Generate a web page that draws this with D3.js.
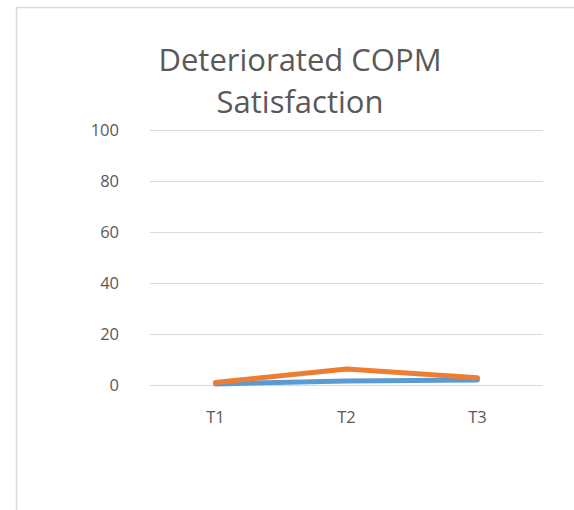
<!DOCTYPE html>
<html><head><meta charset="utf-8">
<script src="https://cdn.jsdelivr.net/npm/d3@7"></script>
<style>body{margin:0;background:#fff}</style>
</head><body>
<script>
const categories = ["T1","T2","T3"];
const seriesBlue = [0.4, 1.6, 2.0];
const seriesOrange = [1.0, 6.3, 2.8];
const yTicks = [0,20,40,60,80,100];
const titleLines = ["Deteriorated COPM","Satisfaction"];

const W=574,H=510;
const svg=d3.select("body").append("svg").attr("width",W).attr("height",H);
svg.append("rect").attr("width",W).attr("height",H).attr("fill","#fff");
svg.append("rect").attr("x",16.5).attr("y",7.5).attr("width",W).attr("height",H)
  .attr("fill","#fff").attr("stroke","#d9d9d9").attr("stroke-width",1.5);

const x=d3.scaleBand().domain(categories).range([150,543]);
const y=d3.scaleLinear().domain([0,100]).range([385,130]);

svg.append("g").selectAll("line").data(yTicks).join("line")
  .attr("x1",150).attr("x2",543).attr("y1",d=>y(d)+0.5).attr("y2",d=>y(d)+0.5)
  .attr("stroke","#d9d9d9").attr("stroke-width",1);

const font="'Open Sans', 'Noto Sans', sans-serif";
const yAxis=d3.axisLeft(y).tickValues(yTicks).tickSize(0).tickPadding(0);
const gy=svg.append("g").attr("transform","translate(119,0)").call(yAxis);
gy.select(".domain").remove();
gy.selectAll("text").attr("font-family",font).attr("font-size",16.5).attr("fill","#595959").attr("dy","0.35em");

const xAxis=d3.axisBottom(x).tickSize(0).tickPadding(0);
const gx=svg.append("g").attr("transform","translate(0,417)").call(xAxis);
gx.select(".domain").remove();
gx.selectAll("text").attr("font-family",font).attr("font-size",16.5).attr("fill","#595959").attr("dy","0.35em");

const line=d3.line().x((d,i)=>x(categories[i])+x.bandwidth()/2).y(d=>y(d));
svg.append("path").datum(seriesBlue).attr("d",line).attr("fill","none")
  .attr("stroke","#5B9BD5").attr("stroke-width",5).attr("stroke-linecap","round").attr("stroke-linejoin","round");
svg.append("path").datum(seriesOrange).attr("d",line).attr("fill","none")
  .attr("stroke","#ED7D31").attr("stroke-width",5).attr("stroke-linecap","round").attr("stroke-linejoin","round");

svg.append("g").selectAll("text").data(titleLines).join("text")
  .attr("x",300).attr("y",(d,i)=>71+i*42).attr("text-anchor","middle")
  .attr("font-family",font).attr("font-size",31).attr("fill","#595959").text(d=>d);
</script>
</body></html>
